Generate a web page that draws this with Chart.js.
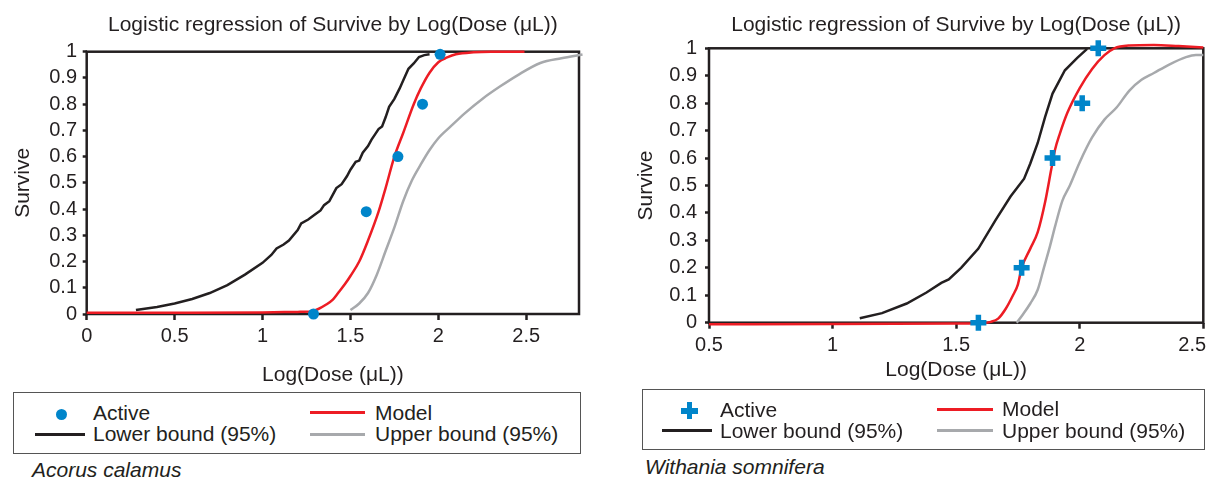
<!DOCTYPE html>
<html>
<head>
<meta charset="utf-8">
<script src="https://cdn.jsdelivr.net/npm/chart.js@4.4.0/dist/chart.umd.min.js"></script>
<style>
  body { margin: 0; width: 1207px; height: 478px; overflow: hidden; background: #fff; position: relative;
         font-family: "Liberation Sans", Arial, sans-serif; color: #231f20; }
  canvas { position: absolute; top: 0; }
  #chartA { left: 0; }
  #chartB { left: 607px; }
  .box { position: absolute; border: 1.5px solid #555; box-sizing: border-box; }
  .t { position: absolute; font-size: 21px; line-height: 24px; white-space: nowrap; }
  .ln { position: absolute; height: 3px; }
  .sp { position: absolute; font-size: 21px; line-height: 24px; font-style: italic; white-space: nowrap; }
</style>
</head>
<body>
<canvas id="chartA" width="620" height="392"></canvas>
<canvas id="chartB" width="640" height="392"></canvas>

<!-- legend: Acorus calamus -->
<div class="box" style="left:13px;top:392px;width:568px;height:62px"></div>
<div style="position:absolute;left:56px;top:409px;width:11px;height:11px;border-radius:50%;background:#0085ca"></div>
<div class="t" style="left:93px;top:401px">Active</div>
<div class="ln" style="left:310px;top:411px;width:55px;background:#ed1c24"></div>
<div class="t" style="left:375px;top:401px">Model</div>
<div class="ln" style="left:35px;top:433px;width:50px;background:#231f20"></div>
<div class="t" style="left:93px;top:422px">Lower bound (95%)</div>
<div class="ln" style="left:310px;top:433px;width:55px;background:#a7a9ac"></div>
<div class="t" style="left:375px;top:422px">Upper bound (95%)</div>
<div class="sp" style="left:32px;top:458px">Acorus calamus</div>

<!-- legend: Withania somnifera -->
<div class="box" style="left:642px;top:389px;width:563px;height:61px"></div>
<div style="position:absolute;left:681px;top:408px;width:17px;height:5.5px;background:#0085ca"></div>
<div style="position:absolute;left:686.5px;top:402px;width:5.5px;height:17px;background:#0085ca"></div>
<div class="t" style="left:720px;top:398px">Active</div>
<div class="ln" style="left:937px;top:407.5px;width:56px;background:#ed1c24"></div>
<div class="t" style="left:1002px;top:397px">Model</div>
<div class="ln" style="left:662px;top:429px;width:50px;background:#231f20"></div>
<div class="t" style="left:720px;top:419px">Lower bound (95%)</div>
<div class="ln" style="left:937px;top:429px;width:56px;background:#a7a9ac"></div>
<div class="t" style="left:1002px;top:419px">Upper bound (95%)</div>
<div class="sp" style="left:645px;top:455px">Withania somnifera</div>

<script>
// Acorus calamus
const activeDoseA = [1.29, 1.59, 1.77, 1.91, 2.01];
const activeSurviveA = [0, 0.39, 0.60, 0.80, 0.99];
const modelDoseA = [0, 0.5, 1.0, 1.2, 1.28, 1.32, 1.36, 1.4, 1.43, 1.47, 1.5, 1.55, 1.6, 1.66, 1.7, 1.75, 1.8, 1.86, 1.9, 1.95, 2.0, 2.05, 2.1, 2.2, 2.3, 2.49];
const modelSurviveA = [0.005, 0.005, 0.006, 0.008, 0.01, 0.02, 0.035, 0.055, 0.08, 0.115, 0.145, 0.2, 0.28, 0.39, 0.48, 0.6, 0.69, 0.8, 0.86, 0.92, 0.96, 0.978, 0.99, 0.998, 1.0, 1.0];
const lowerDoseA = [0.28, 0.4, 0.5, 0.6, 0.7, 0.8, 0.9, 1.0, 1.05, 1.08, 1.12, 1.15, 1.2, 1.22, 1.26, 1.3, 1.33, 1.35, 1.38, 1.4, 1.42, 1.45, 1.48, 1.5, 1.53, 1.55, 1.57, 1.6, 1.62, 1.64, 1.66, 1.68, 1.7, 1.72, 1.75, 1.78, 1.8, 1.83, 1.86, 1.89, 1.92, 1.95];
const lowerSurviveA = [0.015, 0.027, 0.04, 0.057, 0.08, 0.11, 0.15, 0.195, 0.225, 0.25, 0.265, 0.28, 0.32, 0.345, 0.36, 0.38, 0.395, 0.415, 0.43, 0.455, 0.48, 0.495, 0.525, 0.55, 0.58, 0.585, 0.615, 0.64, 0.665, 0.685, 0.705, 0.715, 0.75, 0.79, 0.82, 0.86, 0.89, 0.935, 0.955, 0.98, 0.987, 0.99];
const upperDoseA = [1.5, 1.55, 1.6, 1.65, 1.7, 1.75, 1.8, 1.85, 1.9, 1.95, 2.0, 2.07, 2.15, 2.25, 2.35, 2.45, 2.58, 2.7, 2.82];
const upperSurviveA = [0.015, 0.04, 0.08, 0.15, 0.24, 0.33, 0.43, 0.51, 0.57, 0.625, 0.67, 0.715, 0.765, 0.82, 0.867, 0.91, 0.957, 0.975, 0.989];
const xTicksA = [0, 0.5, 1, 1.5, 2, 2.5];

// Withania somnifera
const activeDoseB = [1.59, 1.765, 1.89, 2.01, 2.075];
const activeSurviveB = [0, 0.2, 0.6, 0.8, 1.0];
const modelDoseB = [0.5, 1.0, 1.5, 1.6, 1.64, 1.67, 1.7, 1.73, 1.75, 1.765, 1.8, 1.83, 1.86, 1.885, 1.9, 1.92, 1.95, 2.0, 2.05, 2.1, 2.14, 2.2, 2.3, 2.4, 2.5];
const modelSurviveB = [-0.006, -0.005, -0.003, -0.002, 0.003, 0.015, 0.05, 0.1, 0.14, 0.2, 0.27, 0.33, 0.44, 0.56, 0.63, 0.69, 0.765, 0.855, 0.925, 0.975, 1.0, 1.01, 1.012, 1.008, 1.003];
const lowerDoseB = [1.11, 1.2, 1.3, 1.38, 1.44, 1.47, 1.52, 1.59, 1.66, 1.72, 1.775, 1.8, 1.83, 1.86, 1.89, 1.94, 1.99, 2.03];
const lowerSurviveB = [0.016, 0.035, 0.07, 0.11, 0.145, 0.158, 0.2, 0.27, 0.375, 0.46, 0.525, 0.58, 0.655, 0.75, 0.835, 0.92, 0.965, 0.998];
const upperDoseB = [1.745, 1.77, 1.8, 1.83, 1.855, 1.88, 1.9, 1.93, 1.96, 2.0, 2.05, 2.1, 2.15, 2.2, 2.25, 2.3, 2.36, 2.43, 2.47, 2.5];
const upperSurviveB = [0, 0.03, 0.07, 0.12, 0.2, 0.28, 0.35, 0.445, 0.5, 0.585, 0.675, 0.74, 0.785, 0.845, 0.885, 0.91, 0.94, 0.968, 0.976, 0.976];
const xTicksB = [0.5, 1, 1.5, 2, 2.5];

const yTicks = [0, 0.1, 0.2, 0.3, 0.4, 0.5, 0.6, 0.7, 0.8, 0.9, 1];

const INK = '#231f20', BLUE = '#0085ca', RED = '#ed1c24', GREY = '#a7a9ac';
const FONT = '"Liberation Sans", Arial, sans-serif';

function pts(xs, ys) {
    return xs.map((x, i) => ({ x: x, y: ys[i] }));
}

// box round the plot area, drawn under the curves
const frame = {
    id: 'frame',
    beforeDatasetsDraw(chart) {
        const a = chart.chartArea, c = chart.ctx;
        c.save();
        c.strokeStyle = INK;
        c.lineWidth = 2.5;
        c.strokeRect(a.left, a.top, a.right - a.left, a.bottom - a.top);
        c.restore();
    }
};

function drawChart(id, d) {
    new Chart(document.getElementById(id), {
        type: 'scatter',
        data: {
            datasets: [
                { label: 'Active', data: pts(d.activeX, d.activeY), pointStyle: d.marker, pointRadius: d.markerR,
                  backgroundColor: BLUE, borderColor: BLUE, borderWidth: d.markerW, showLine: false, clip: false },
                { label: 'Model', data: pts(d.modelX, d.modelY), showLine: true, borderColor: RED, borderWidth: 2.5,
                  pointRadius: 0, cubicInterpolationMode: 'monotone', clip: false },
                { label: 'Lower bound (95%)', data: pts(d.lowerX, d.lowerY), showLine: true, borderColor: INK,
                  borderWidth: 2.5, pointRadius: 0, tension: 0, clip: false },
                { label: 'Upper bound (95%)', data: pts(d.upperX, d.upperY), showLine: true, borderColor: GREY,
                  borderWidth: 2.5, pointRadius: 0, cubicInterpolationMode: 'monotone', clip: false }
            ]
        },
        options: {
            responsive: false,
            animation: false,
            events: [],
            layout: { padding: d.pad },
            plugins: {
                legend: { display: false },
                tooltip: { enabled: false },
                title: {
                    display: true, fullSize: false, color: INK,
                    text: 'Logistic regression of Survive by Log(Dose (μL))',
                    font: { size: 21, family: FONT, weight: 'normal' },
                    padding: d.titlePad
                }
            },
            scales: {
                x: {
                    type: 'linear', min: d.xMin, max: d.xMax,
                    afterBuildTicks: s => { s.ticks = d.xTicks.map(v => ({ value: v })); },
                    afterFit: s => { s.height = d.xH; },
                    grid: { drawOnChartArea: false, tickLength: 6, tickWidth: 2.5, tickColor: INK },
                    border: { display: false },
                    ticks: { color: INK, font: { size: 20, family: FONT }, padding: d.xTickPad, maxRotation: 0,
                             autoSkip: false,
                             // the last label of the right panel sits flush with the page edge
                             callback: v => (v === d.xMax && d.edgeLabel) ? String(v) + '\u2007\u2007' : String(v) },
                    title: { display: true, text: 'Log(Dose (μL))', color: INK, font: { size: 21, family: FONT },
                             padding: { top: 0, bottom: d.xTitlePad } }
                },
                y: {
                    min: 0, max: 1,
                    afterBuildTicks: s => { s.ticks = yTicks.map(v => ({ value: v })); },
                    afterFit: s => { s.width = d.yW; },
                    grid: { drawOnChartArea: false, tickLength: 4, tickWidth: 2.5, tickColor: INK },
                    border: { display: false },
                    ticks: { color: INK, font: { size: 20, family: FONT }, padding: d.yTickPad, autoSkip: false,
                             callback: v => String(v) },
                    title: { display: true, text: 'Survive', color: INK, font: { size: 21, family: FONT },
                             padding: { top: d.yTitlePad, bottom: 0 } }
                }
            }
        },
        plugins: [frame]
    });
}

drawChart('chartA', {
    activeX: activeDoseA, activeY: activeSurviveA, marker: 'circle', markerR: 5.5, markerW: 0,
    modelX: modelDoseA, modelY: modelSurviveA,
    lowerX: lowerDoseA, lowerY: lowerSurviveA,
    upperX: upperDoseA, upperY: upperSurviveA,
    xTicks: xTicksA, xMin: 0, xMax: 2.8, edgeLabel: false,
    pad: { left: 0, right: 41, top: 0, bottom: 2 },
    titlePad: { top: 12.4, bottom: 14.1 },
    xH: 76, xTickPad: 4.5, xTitlePad: 2.4,
    yW: 86.7, yTickPad: 5.7, yTitlePad: 10.4
});

drawChart('chartB', {
    activeX: activeDoseB, activeY: activeSurviveB, marker: 'cross', markerR: 8, markerW: 5.5,
    modelX: modelDoseB, modelY: modelSurviveB,
    lowerX: lowerDoseB, lowerY: lowerSurviveB,
    upperX: upperDoseB, upperY: upperSurviveB,
    xTicks: xTicksB, xMin: 0.5, xMax: 2.5, edgeLabel: true,
    pad: { left: 0, right: 43.7, top: 0, bottom: 7.3 },
    titlePad: { top: 12.4, bottom: 10.7 },
    xH: 62, xTickPad: 4.3, xTitlePad: 2.1,
    yW: 102, yTickPad: 8, yTitlePad: 26.4
});
</script>
</body>
</html>
